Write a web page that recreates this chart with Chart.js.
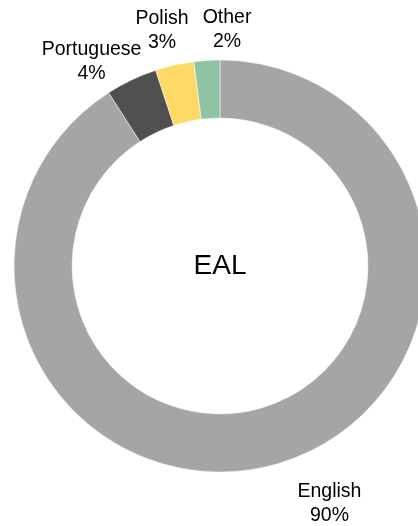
<!DOCTYPE html>
<html>
<head>
<meta charset="utf-8">
<script src="https://cdn.jsdelivr.net/npm/chart.js@4/dist/chart.umd.min.js"></script>
<style>
  html, body { margin: 0; padding: 0; background: #ffffff; }
  #wrap { width: 418px; height: 526px; position: relative; overflow: hidden; }
</style>
</head>
<body>
<div id="wrap"><canvas id="chart" width="418" height="526"></canvas></div>
<script>
// Home languages of pupils with English as an additional language
const languages = ['English', 'Portuguese', 'Polish', 'Other'];
const shares = [90, 4, 3, 2];
const sliceColors = ['#A5A5A5', '#505050', '#FFD966', '#8EC3A4'];
const centreTitle = 'EAL';

// Label placement: anchor sits just outside the ring on each slice's mid-angle,
// then a small nudge keeps neighbouring labels clear of each other.
const labelGap = 30;
const labelNudge = [[43, 5], [-27, 2], [-6, -12], [22, -7]];
const labelFont = '19.5px "Liberation Sans", Arial, sans-serif';
const labelLineHeight = 24;

const sliceLabels = {
  id: 'sliceLabels',
  afterDatasetsDraw(chart) {
    const ctx = chart.ctx;
    const meta = chart.getDatasetMeta(0);
    const data = chart.data.datasets[0].data;
    ctx.save();
    ctx.fillStyle = '#000000';
    ctx.textAlign = 'center';
    ctx.textBaseline = 'alphabetic';
    ctx.font = labelFont;
    meta.data.forEach((arc, i) => {
      const p = arc.getProps(['x', 'y', 'startAngle', 'endAngle', 'outerRadius'], true);
      const mid = (p.startAngle + p.endAngle) / 2;
      const r = p.outerRadius + labelGap;
      const x = p.x + Math.cos(mid) * r + labelNudge[i][0];
      const y = p.y + Math.sin(mid) * r + labelNudge[i][1];
      ctx.fillText(chart.data.labels[i], x, y);
      ctx.fillText(data[i] + '%', x, y + labelLineHeight);
    });
    // centre title
    const c = meta.data[0];
    ctx.font = '28px "Liberation Sans", Arial, sans-serif';
    ctx.fillText(centreTitle, c.x, c.y + 7.5);
    ctx.restore();
  }
};

new Chart(document.getElementById('chart'), {
  type: 'doughnut',
  data: {
    labels: languages,
    datasets: [{
      data: shares,
      backgroundColor: sliceColors,
      borderColor: '#ffffff',
      borderWidth: 0.5,
      hoverOffset: 0
    }]
  },
  options: {
    responsive: false,
    animation: false,
    radius: 206,
    cutout: '71.8%',
    rotation: 0,
    layout: { padding: { left: 22, right: 0, top: 6, bottom: 0 } },
    plugins: {
      legend: { display: false },
      tooltip: { enabled: false }
    }
  },
  plugins: [sliceLabels]
});
</script>
</body>
</html>
